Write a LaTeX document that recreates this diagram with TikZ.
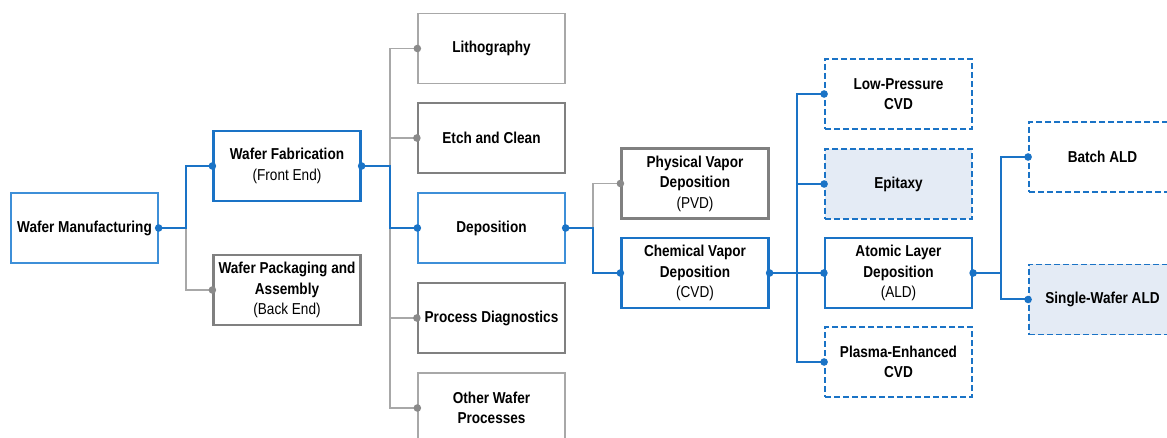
\documentclass[tikz,border=0pt]{standalone}
\usepackage{fontspec}
\setmainfont{Liberation Sans}[FakeStretch=0.86]
\definecolor{cblue}{HTML}{1A73C6}
\definecolor{clblue}{HTML}{3D8FD8}
\definecolor{cgray}{HTML}{808080}
\definecolor{clgray}{HTML}{A8A8A8}
\definecolor{cdot}{HTML}{8A8A8A}
\definecolor{cfill}{HTML}{E4EBF5}
\begin{document}
\begin{tikzpicture}[x=1pt,y=-1pt,
  box/.style={rectangle,minimum width=147pt,minimum height=70pt,inner sep=1pt,align=center,font=\fontsize{15.8}{20.5}\selectfont,fill=white},
  bluebox/.style={box,draw=cblue,line width=2.2pt},
  thinblue/.style={box,draw=clblue,line width=1.3pt},
  graybox/.style={box,draw=cgray,line width=2.2pt},
  thingray/.style={box,draw=clgray,line width=1.3pt},
  dashbox/.style={box,draw=cblue,line width=1.8pt,dash pattern=on 6pt off 3pt},
  bline/.style={draw=cblue,line width=2pt},
  gline/.style={draw=clgray,line width=1.6pt},
  bdot/.style={fill=cblue},
  gdot/.style={fill=cdot}]
\useasboundingbox (0,0) rectangle (1167,438);
% nodes
\node[thinblue] (wm) at (84.5,228) {\textbf{Wafer Manufacturing}};
\node[bluebox] (wf) at (287,166) {\textbf{Wafer Fabrication}\\(Front End)};
\node[graybox] (wp) at (287,290) {\textbf{Wafer Packaging and}\\\textbf{Assembly}\\(Back End)};
\node[thingray] (litho) at (491.5,48.5) {\textbf{Lithography}};
\node[graybox] (etch) at (491.5,138) {\textbf{Etch and Clean}};
\node[thinblue] (dep) at (491.5,228) {\textbf{Deposition}};
\node[graybox] (pd) at (491.5,318) {\textbf{Process Diagnostics}};
\node[thingray] (owp) at (491.5,408) {\textbf{Other Wafer}\\\textbf{Processes}};
\node[graybox] (pvd) at (695,183.5) {\textbf{Physical Vapor}\\\textbf{Deposition}\\(PVD)};
\node[bluebox] (cvd) at (695,273) {\textbf{Chemical Vapor}\\\textbf{Deposition}\\(CVD)};
\node[dashbox] (lp) at (898.5,94) {\textbf{Low-Pressure}\\\textbf{CVD}};
\node[dashbox,fill=cfill] (epi) at (898.5,184) {\textbf{Epitaxy}};
\node[bluebox] (ald) at (898.5,273) {\textbf{Atomic Layer}\\\textbf{Deposition}\\(ALD)};
\node[dashbox] (pe) at (898.5,362) {\textbf{Plasma-Enhanced}\\\textbf{CVD}};
\node[dashbox] (batch) at (1102.5,157) {\textbf{Batch ALD}};
\node[dashbox,fill=cfill] (sw) at (1102.5,299.5) {\textbf{Single-Wafer ALD}};
% junctions
\coordinate (j1) at (186,228);
\coordinate (j2) at (390,166);
\coordinate (j3) at (593,228);
\coordinate (j4) at (797,273);
\coordinate (j5) at (1001,273);
% gray connectors
\draw[gline] (j1) |- (wp.west);
\draw[gline] (j2) |- (litho.west);
\draw[gline] (j2) |- (etch.west);
\draw[gline] (j2) |- (pd.west);
\draw[gline] (j2) |- (owp.west);
\draw[gline] (j3) |- (pvd.west);
% blue connectors
\draw[bline] (wm.east) -- (j1) |- (wf.west);
\draw[bline] (wf.east) -- (j2) |- (dep.west);
\draw[bline] (dep.east) -- (j3) |- (cvd.west);
\draw[bline] (cvd.east) -- (ald.west);
\draw[bline] (j4) |- (lp.west);
\draw[bline] (j4) |- (epi.west);
\draw[bline] (j4) |- (pe.west);
\draw[bline] (ald.east) -- (j5) |- (batch.west);
\draw[bline] (j5) |- (sw.west);
% dots
\foreach \p in {wm.east,wf.west,wf.east,dep.west,dep.east,cvd.west,cvd.east,lp.west,epi.west,ald.west,pe.west,ald.east,batch.west,sw.west}
  \fill[bdot] (\p) circle[radius=3.8pt];
\foreach \p in {wp.west,litho.west,etch.west,pd.west,owp.west,pvd.west}
  \fill[gdot] (\p) circle[radius=3.8pt];
\end{tikzpicture}
\end{document}
